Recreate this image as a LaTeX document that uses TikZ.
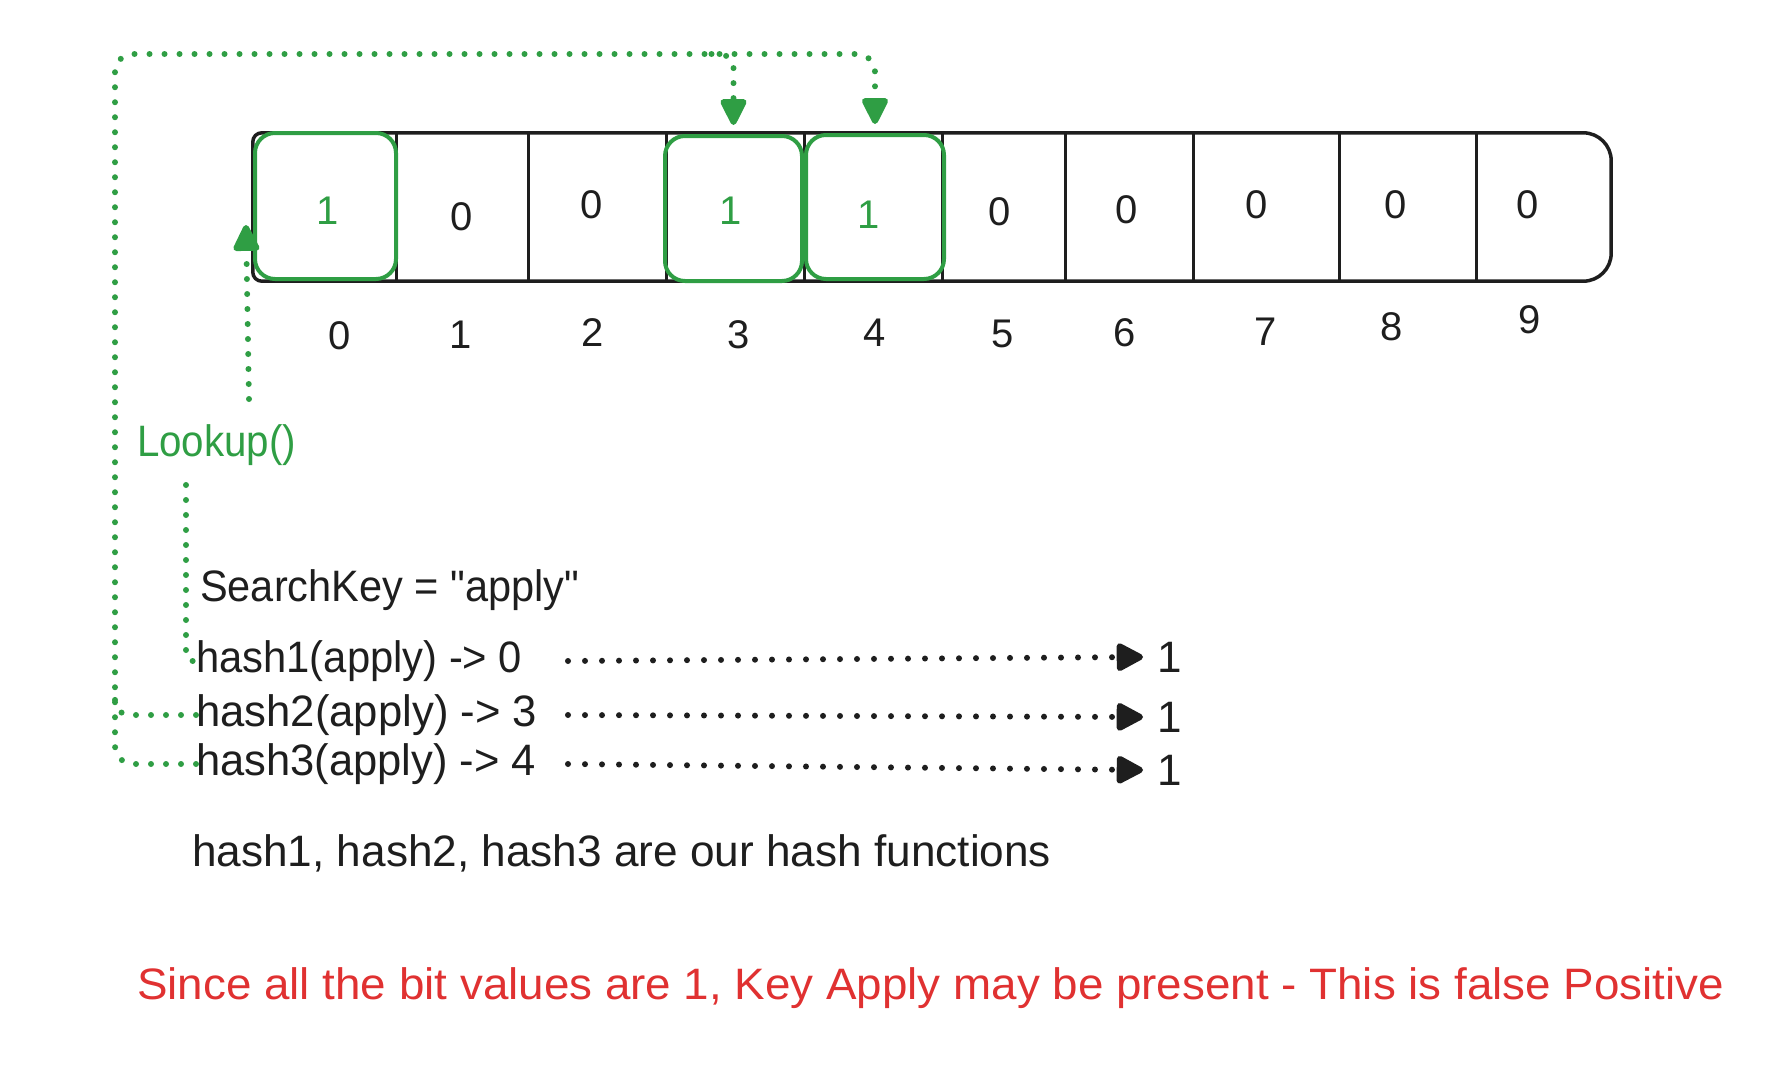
\documentclass[tikz,border=0pt]{standalone}
\usepackage{fontspec}
\setmainfont{Liberation Sans}[Ligatures=TeXOff]
\usepackage{graphicx}
\usetikzlibrary{arrows.meta}
\definecolor{exg}{HTML}{2F9E44}
\definecolor{exr}{HTML}{E03131}
\definecolor{exk}{HTML}{1E1E1E}
\newcommand\fitto[2]{\resizebox{#1}{\height}{#2}}
\begin{document}
\begin{tikzpicture}[x=1pt,y=-1pt,
  txt/.style={font=\fontsize{44}{52}\selectfont, inner sep=0pt, text=exk, anchor=west},
  digit/.style={font=\fontsize{40}{48}\selectfont, inner sep=0pt, text=exk},
  cell/.style={minimum height=148pt, inner sep=0pt},
  gbox/.style={draw=exg, line width=4pt, rounded corners=20pt, inner sep=0pt},
  frame/.style={draw=exk, line width=3.5pt, line join=round},
  divider/.style={draw=exk, line width=3pt},
  gdot/.style={draw=exg, line width=6pt, line cap=round, dash pattern=on 0pt off 15pt},
  bdot/.style={draw=exk, line width=6pt, line cap=round, dash pattern=on 0pt off 17pt},
  gtip/.style={-{Triangle[length=30pt,width=28pt,round=false]}},
  btip/.style={-{Triangle[length=30pt,width=30pt,round=false]}},
]
\useasboundingbox (0,0) rectangle (1788,1082);

% cells
\node[cell, minimum width=143pt] (c0) at (324.5,207) {};
\node[cell, minimum width=132pt] (c1) at (462,207) {};
\node[cell, minimum width=138pt] (c2) at (597,207) {};
\node[cell, minimum width=138pt] (c3) at (735,207) {};
\node[cell, minimum width=138pt] (c4) at (873,207) {};
\node[cell, minimum width=123pt] (c5) at (1003.5,207) {};
\node[cell, minimum width=128pt] (c6) at (1129,207) {};
\node[cell, minimum width=146pt] (c7) at (1266,207) {};
\node[cell, minimum width=137pt] (c8) at (1407.5,207) {};
\node[cell, minimum width=135pt] (c9) at (1543.5,207) {};

% outer frame
\draw[frame] [rounded corners=9pt] (1000,133) -- (c0.north west) -- (c0.south west) -- (1000,281)
   [rounded corners=28pt] -- (c9.south east) -- (c9.north east) -- cycle;
% dividers
\foreach \c in {c0,c1,c2,c3,c4,c5,c6,c7,c8}
  \draw[divider] (\c.north east) -- (\c.south east);

% green highlight boxes
\node[gbox, minimum width=141pt, minimum height=146pt] (g0) at (325.5,206) {};
\node[gbox, minimum width=137pt, minimum height=145pt] (g3) at (733.5,208.5) {};
\node[gbox, minimum width=138pt, minimum height=144pt] (g4) at (875,207) {};

% bit values
\node[digit, text=exg] (v0) at (328,211) {1};
\node[digit] (v1) at (462,217) {0};
\node[digit] (v2) at (592,205) {0};
\node[digit, text=exg] (v3) at (731,211) {1};
\node[digit, text=exg] (v4) at (869,215) {1};
\node[digit] (v5) at (1000,212) {0};
\node[digit] (v6) at (1127,210) {0};
\node[digit] (v7) at (1257,205) {0};
\node[digit] (v8) at (1396,205) {0};
\node[digit] (v9) at (1528,205) {0};

% indices
\node[digit] (i0) at (340,336) {0};
\node[digit] (i1) at (461,335) {1};
\node[digit] (i2) at (593,333) {2};
\node[digit] (i3) at (739,335) {3};
\node[digit] (i4) at (875,333) {4};
\node[digit] (i5) at (1003,334) {5};
\node[digit] (i6) at (1125,333) {6};
\node[digit] (i7) at (1266,332) {7};
\node[digit] (i8) at (1392,327) {8};
\node[digit] (i9) at (1530,320) {9};

% texts
\node[txt, text=exg] (lookup) at (137,445) {\fitto{159pt}{Lookup()}};
\node[txt] (sk) at (200,590) {\fitto{379pt}{SearchKey = "apply"}};
\node[txt] (h1) at (196,661) {\fitto{326pt}{hash1(apply) -> 0}};
\node[txt] (h2) at (196,715) {\fitto{341pt}{hash2(apply) -> 3}};
\node[txt] (h3) at (196,764) {\fitto{340pt}{hash3(apply) -> 4}};
\node[txt] (r1) at (1157,657) {1};
\node[txt] (r2) at (1157,717) {1};
\node[txt] (r3) at (1157,770) {1};
\node[txt] (note) at (192,853) {\fitto{859pt}{hash1, hash2, hash3 are our hash functions}};
\node[txt, text=exr] (concl) at (137,988) {\fitto{1587pt}{Since all the bit values are 1, Key Apply may be present - This is false Positive}};

% coordinates
\coordinate (L) at (115,54);
\coordinate (sx) at (568,0);
\coordinate (lk) at (249,399);
\coordinate (a0) at (246,225);
\coordinate (ls) at (186,485);

% green connectors
\draw[gdot, gtip, rounded corners=18pt] (h3.west) -| (L) -| ([yshift=9pt]g4.north);
\draw[gdot, gtip, rounded corners=14pt] ([xshift=-22pt]L -| g3.north) -| ([yshift=9pt]g3.north);
\draw[gdot, rounded corners=14pt] (h2.west) -- (L |- h2.west) -- ++(0,-20);
\draw[gdot, gtip] (lk) -- (a0);
\draw[gdot, rounded corners=6pt] (ls) |- (h1.west);

% black dotted arrows
\draw[bdot, btip] (h1.east -| sx) -- ([xshift=-14pt]r1.west);
\draw[bdot, btip] (h2.east -| sx) -- ([xshift=-14pt]r2.west);
\draw[bdot, btip] (h3.east -| sx) -- ([xshift=-14pt]r3.west);
\end{tikzpicture}
\end{document}
